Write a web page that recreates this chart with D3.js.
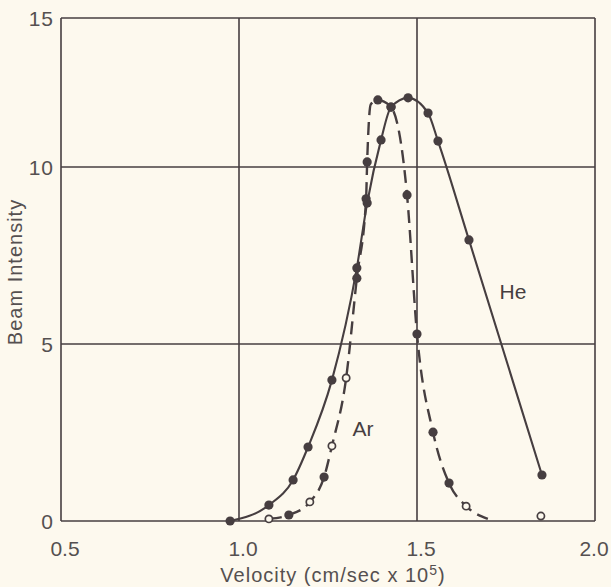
<!DOCTYPE html>
<html><head><meta charset="utf-8">
<script src="https://cdn.jsdelivr.net/npm/d3@7"></script>
<style>body{margin:0;background:#fdf9ee;}svg{display:block;}</style>
</head><body>
<script>
// Data
const xTicks = [0.5, 1.0, 1.5, 2.0];
const yTicks = [0, 5, 10, 15];
const heV = [0.975, 1.084, 1.152, 1.194, 1.261, 1.331, 1.360, 1.399, 1.427, 1.475, 1.531, 1.559, 1.646, 1.851];
const heI = [0.0, 0.45, 1.16, 2.09, 3.98, 7.15, 8.98, 10.91, 12.01, 12.32, 11.81, 10.87, 7.94, 1.30];
const arV = [1.084, 1.140, 1.199, 1.239, 1.261, 1.301, 1.331, 1.357, 1.360, 1.370, 1.390, 1.427, 1.472, 1.500, 1.545, 1.590, 1.638, 1.699];
const arI = [0.06, 0.17, 0.54, 1.24, 2.12, 4.04, 6.86, 9.10, 10.17, 12.10, 12.25, 12.01, 9.21, 5.28, 2.51, 1.07, 0.42, 0.06];
// marker type for Ar points: "o" open, "f" filled, "" none
const arMark = ["o", "f", "o", "f", "o", "o", "f", "f", "f", "", "f", "f", "f", "f", "f", "f", "o", ""];
const arExtraV = [1.848];
const arExtraI = [0.14];

const W = 611, H = 587;
const ink = "#463e40";
const lab = "#555050";
const font = "Liberation Sans, Arial, sans-serif";
const svg = d3.select("body").append("svg").attr("width", W).attr("height", H);
svg.append("rect").attr("width", W).attr("height", H).attr("fill", "#fdf9ee");

const x = d3.scaleLinear().domain([0.5, 2.0]).range([61, 595]);
// the printed frame is slightly compressed above 10
const y = d3.scaleLinear().domain([0, 10, 15]).range([521, 167, 18]);

// grid
const g = svg.append("g");
g.selectAll("line.v").data(xTicks).join("line")
  .attr("x1", d => x(d)).attr("x2", d => x(d)).attr("y1", y(0)).attr("y2", y(15))
  .attr("stroke", ink).attr("stroke-width", 1.6);
g.selectAll("line.h").data(yTicks).join("line")
  .attr("y1", d => y(d)).attr("y2", d => y(d)).attr("x1", x(0.5)).attr("x2", x(2.0))
  .attr("stroke", ink).attr("stroke-width", 1.6);

// tick labels
svg.selectAll("text.xt").data(xTicks).join("text")
  .attr("x", d => Math.min(x(d) + 4, W - 17)).attr("y", y(0) + 35)
  .attr("text-anchor", "middle").attr("font-family", font)
  .attr("font-size", 21).attr("fill", lab).text(d => d.toFixed(1));
svg.selectAll("text.yt").data(yTicks).join("text")
  .attr("x", x(0.5) - 7).attr("y", d => y(d) + 8)
  .attr("text-anchor", "end").attr("font-family", font).attr("letter-spacing", 1)
  .attr("font-size", 21).attr("fill", lab).text(d => d);

// axis titles
const xt = svg.append("text").attr("x", 333).attr("y", 582).attr("text-anchor", "middle")
  .attr("font-family", font).attr("font-size", 20).attr("letter-spacing", 1).attr("fill", lab);
xt.append("tspan").text("Velocity (cm/sec x 10");
xt.append("tspan").attr("dy", -7).attr("font-size", 14).text("5");
xt.append("tspan").attr("dy", 7).text(")");
svg.append("text").attr("transform", "translate(22,272) rotate(-90)").attr("text-anchor", "middle")
  .attr("font-family", font).attr("font-size", 20).attr("letter-spacing", 1).attr("fill", lab)
  .text("Beam Intensity");

// curves
const he = heV.map((v, i) => [v, heI[i]]);
const ar = arV.map((v, i) => [v, arI[i], arMark[i]]);
const line = d3.line().x(d => x(d[0])).y(d => y(d[1])).curve(d3.curveMonotoneX);
svg.append("path").attr("d", line(he)).attr("fill", "none").attr("stroke", ink).attr("stroke-width", 2.1);
svg.append("path").attr("d", line(ar)).attr("fill", "none").attr("stroke", ink).attr("stroke-width", 2.4)
  .attr("stroke-dasharray", "13,7");

// markers
svg.selectAll("circle.he").data(he).join("circle")
  .attr("cx", d => x(d[0])).attr("cy", d => y(d[1])).attr("r", 4.6).attr("fill", ink);
svg.selectAll("circle.arf").data(ar.filter(d => d[2] === "f")).join("circle")
  .attr("cx", d => x(d[0])).attr("cy", d => y(d[1])).attr("r", 4.6).attr("fill", ink);
const arOpen = ar.filter(d => d[2] === "o").concat(arExtraV.map((v, i) => [v, arExtraI[i], "o"]));
svg.selectAll("circle.aro").data(arOpen).join("circle")
  .attr("cx", d => x(d[0])).attr("cy", d => y(d[1])).attr("r", 3.6)
  .attr("fill", "#fdf9ee").attr("stroke", ink).attr("stroke-width", 1.7);

// labels
svg.append("text").attr("x", 513).attr("y", 299).attr("text-anchor", "middle")
  .attr("font-family", font).attr("font-size", 21).attr("fill", ink).text("He");
svg.append("text").attr("x", 363).attr("y", 436).attr("text-anchor", "middle")
  .attr("font-family", font).attr("font-size", 21).attr("fill", ink).text("Ar");
</script>
</body></html>
